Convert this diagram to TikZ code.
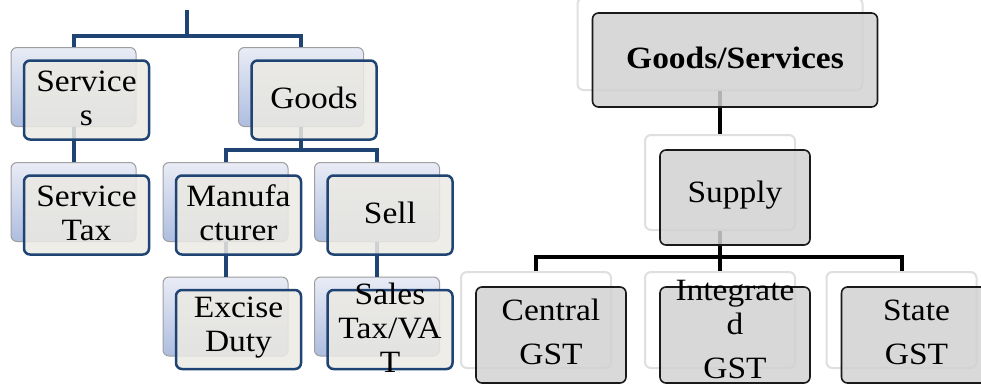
\documentclass[tikz,border=0pt]{standalone}
\usepackage{fontspec}
\setmainfont{Liberation Serif}[FakeStretch=1.08]
\definecolor{lblue}{HTML}{1F4474}
\definecolor{lfill}{HTML}{ECEAE3}
\definecolor{ltop}{HTML}{E9ECF6}
\definecolor{lbot}{HTML}{AEBDDF}
\definecolor{rfill}{HTML}{D2D2D2}
\definecolor{rline}{HTML}{1A1A1A}
\tikzset{
  lback/.style={draw=gray!75, line width=1pt, rounded corners=6pt, top color=ltop, bottom color=lbot, minimum width=125pt, minimum height=79pt, inner sep=0pt},
  lfront/.style={draw=lblue, line width=2.5pt, rounded corners=6pt, fill=lfill, fill opacity=0.85, minimum width=125pt, minimum height=79pt, inner sep=0pt},
  lconn/.style={draw=lblue, line width=4pt},
  rback/.style={draw=gray!25, line width=2pt, rounded corners=6pt, fill=white, inner sep=0pt},
  rfront/.style={draw=rline, line width=1.6pt, rounded corners=6pt, fill=rfill, fill opacity=0.85, inner sep=0pt},
  rconn/.style={draw=black, line width=4pt},
  txt/.style={font=\fontsize{31}{34}\selectfont, align=center, inner sep=0pt, text=black},
  rsmall/.style={minimum width=150pt, minimum height=96pt},
}
\begin{document}
\begin{tikzpicture}[x=1pt,y=-1pt]
\useasboundingbox (0,0) rectangle (981,383);
% ---------- left tree: back boxes ----------
\node[lback] (svB) at (73.5,87) {};
\node[lback] (gdB) at (301,87) {};
\node[lback] (stB) at (73.5,202) {};
\node[lback] (mfB) at (225.5,202) {};
\node[lback] (slB) at (377,202) {};
\node[lback] (exB) at (225.5,316.5) {};
\node[lback] (saB) at (377,316.5) {};
% ---------- right tree: back boxes ----------
\node[rback, minimum width=285pt, minimum height=92pt] (gsB) at (720,44) {};
\node[rback, rsmall, minimum height=95pt] (spB) at (720,182.5) {};
\node[rback, rsmall] (ceB) at (536,320) {};
\node[rback, rsmall] (inB) at (720,320) {};
\node[rback, rsmall] (saRB) at (901.5,320) {};
% ---------- left connectors ----------
\coordinate (ltop) at (187,10);
\coordinate (lbus) at (187,36);
\coordinate (gbus) at (301,150);
\draw[lconn] (ltop) -- (lbus);
\draw[lconn] (svB.north) -- ++(0,-11.5) -| (gdB.north);
\draw[lconn] (svB.south) -- (stB.north);
\draw[lconn] (gdB.south) -- (gbus);
\draw[lconn] (mfB.north) -- ++(0,-12.5) -| (slB.north);
\draw[lconn] (mfB.south) -- (exB.north);
\draw[lconn] (slB.south) -- (saB.north);
% ---------- right connectors ----------
\draw[rconn] (gsB.south) -- (spB.north);
\draw[rconn] (spB.south) -- (inB.north);
\draw[rconn] (ceB.north) -- ++(0,-14) -| (saRB.north);
% ---------- left front boxes ----------
\node[lfront] (svF) at (86.5,100) {};
\node[lfront] (gdF) at (314,100) {};
\node[lfront] (stF) at (86.5,215) {};
\node[lfront] (mfF) at (238.5,215) {};
\node[lfront] (slF) at (390,215) {};
\node[lfront] (exF) at (238.5,329.5) {};
\node[lfront] (saF) at (390,329.5) {};
% ---------- right front boxes ----------
\node[rfront, minimum width=285pt, minimum height=94pt] (gsF) at (735,60) {};
\node[rfront, rsmall, minimum height=95pt] (spF) at (735,197.5) {};
\node[rfront, rsmall] (ceF) at (551,335) {};
\node[rfront, rsmall] (inF) at (735,335) {};
\node[rfront, rsmall] (saRF) at (916.5,335) {};
% ---------- texts ----------
\node[txt] (svT) at (86.5,98) {Service\\s};
\node[txt] (gdT) at (314,98) {Goods};
\node[txt] (stT) at (86.5,213) {Service\\Tax};
\node[txt] (mfT) at (238.5,213) {Manufa\\cturer};
\node[txt] (slT) at (390,213) {Sell};
\node[txt] (exT) at (238.5,328) {Excise\\Duty};
\node[txt] (saT) at (390,328) {Sales\\Tax/VA\\T};
\node[txt, font=\fontsize{31}{34}\selectfont\bfseries] (gsT) at (735,58) {Goods/Services};
\node[txt] (spT) at (735,195) {Supply};
\node[txt] (ceT) at (551,332) {Central\\[10pt]GST};
\node[txt] (inT) at (735,329) {Integrate\\d\\[10pt]GST};
\node[txt] (srT) at (916.5,332) {State\\[10pt]GST};
\end{tikzpicture}
\end{document}
